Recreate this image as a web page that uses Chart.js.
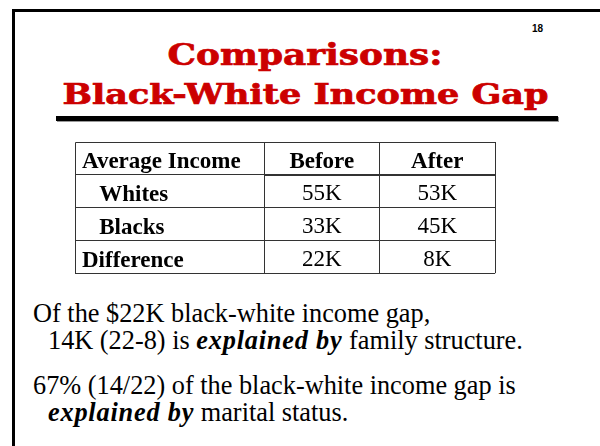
<!DOCTYPE html>
<html>
<head>
<meta charset="utf-8">
<script src="https://cdn.jsdelivr.net/npm/chart.js@4"></script>
<style>
  html, body { margin: 0; padding: 0; background: #fff; }
  body { width: 600px; height: 446px; position: relative; overflow: hidden; }
  .frame { position: absolute; left: 12px; top: 9px; width: 620px; height: 460px;
           border-top: 3px solid #000; border-left: 3px solid #000; }
  .pagenum { position: absolute; left: 532px; top: 23.5px; font: bold 10px/10px "Liberation Sans", Arial, sans-serif; }
  .title { position: absolute; left: 0; width: 610px; text-align: center; color: #cc0000;
           font-family: "DejaVu Serif", serif; font-weight: bold; white-space: nowrap;
           -webkit-text-stroke: 0.7px #cc0000; }
  .title span { display: inline-block; transform-origin: center; }
  .rule { position: absolute; left: 56px; top: 116px; width: 502px; height: 5px; background: #000;
          box-shadow: 1px 1px 0 #999; }
  .line { position: absolute; font: 26.3px/26px "Liberation Serif", "Times New Roman", serif; white-space: nowrap; color: #000; }
  .line b { font-style: italic; letter-spacing: 0.8px; }
  #tableBox { position: absolute; left: 60px; top: 130px; width: 450px; height: 160px; }
</style>
</head>
<body>
<div class="frame"></div>
<div class="pagenum">18</div>
<div class="title" style="top:39.6px;font-size:30px;line-height:30px"><span id="t1" data-w="275">Comparisons:</span></div>
<div class="title" style="top:81.2px;font-size:27px;line-height:27px"><span id="t2" data-w="486">Black-White Income Gap</span></div>
<div class="rule"></div>

<div id="tableBox"><canvas id="gapTable"></canvas></div>

<div class="line" style="left:33px;top:301px">Of the $22K black-white income gap,</div>
<div class="line" style="left:48px;top:328px">14K (22-8) is <b>explained by</b> family structure.</div>
<div class="line" style="left:33px;top:373px">67% (14/22) of the black-white income gap is</div>
<div class="line" style="left:48px;top:400px"><b>explained by</b> marital status.</div>

<script>
// table data
var cornerLabel = "Average Income";
var columns = ["Before", "After"];
var rows = ["Whites", "Blacks", "Difference"];
var indentedRows = ["Whites", "Blacks"];
var beforeValues = [55, 33, 22];
var afterValues = [53, 45, 8];
var unit = "K";

// squeeze/stretch the title lines to the slide's widths
["t1", "t2"].forEach(function (id) {
    var el = document.getElementById(id);
    var w = el.getBoundingClientRect().width;
    el.style.transform = "scaleX(" + (el.dataset.w / w) + ")";
});

var lineColor = "#333";
var cellFamily = "'Liberation Serif', 'Times New Roman', serif";
var cellSize = 23;

function toPoints(values, column) {
    return values.map(function (v, i) { return { x: column, y: rows[i], v: v }; });
}

var tableText = {
    id: "tableText",
    afterDraw: function (chart) {
        var ctx = chart.ctx;
        var area = chart.chartArea;
        var xs = chart.scales.x;
        var tick = chart.options.scales.y.grid.tickLength;
        var left = area.left - tick;
        ctx.save();
        // outer top and left edge of the table
        ctx.strokeStyle = lineColor;
        ctx.lineWidth = 1;
        ctx.beginPath();
        ctx.moveTo(Math.round(left) + 0.5, Math.round(area.bottom) + 0.5);
        ctx.lineTo(Math.round(left) + 0.5, Math.round(xs.top) + 0.5);
        ctx.lineTo(Math.round(area.right) + 0.5, Math.round(xs.top) + 0.5);
        ctx.stroke();
        // corner header
        ctx.fillStyle = "#000";
        ctx.textBaseline = "alphabetic";
        ctx.textAlign = "left";
        ctx.font = "bold " + cellSize + "px " + cellFamily;
        ctx.fillText(cornerLabel, left + 7, (xs.top + xs.bottom) / 2 + 9);
        // cell values
        ctx.textAlign = "center";
        ctx.font = cellSize + "px " + cellFamily;
        chart.data.datasets.forEach(function (ds, di) {
            var meta = chart.getDatasetMeta(di);
            meta.data.forEach(function (pt, i) {
                ctx.fillText(ds.data[i].v + unit, pt.x, pt.y + 9);
            });
        });
        ctx.restore();
    }
};

new Chart(document.getElementById("gapTable"), {
    type: "scatter",
    data: {
        datasets: [
            { label: columns[0], data: toPoints(beforeValues, columns[0]), pointRadius: 0 },
            { label: columns[1], data: toPoints(afterValues, columns[1]), pointRadius: 0 },
        ],
    },
    options: {
        responsive: true,
        maintainAspectRatio: false,
        animation: false,
        events: [],
        layout: { padding: { left: 22, top: 12, right: 15, bottom: 14 } },
        plugins: { legend: { display: false }, tooltip: { enabled: false } },
        scales: {
            x: {
                type: "category",
                labels: columns,
                position: "top",
                offset: true,
                grid: { offset: true, color: lineColor, tickLength: 33, tickColor: lineColor },
                border: { color: lineColor },
                ticks: {
                    color: "#000",
                    font: { family: cellFamily, size: cellSize, weight: "bold", lineHeight: 1 },
                    padding: -31.5,
                    maxRotation: 0,
                    autoSkip: false,
                },
                afterFit: function (scale) { scale.height = 33; },
            },
            y: {
                type: "category",
                labels: rows,
                offset: true,
                grid: { offset: true, color: lineColor, tickLength: 189, tickColor: lineColor },
                border: { color: lineColor },
                ticks: {
                    color: "#000",
                    crossAlign: "far",
                    labelOffset: 4,
                    autoSkip: false,
                    font: { family: cellFamily, size: cellSize, weight: "bold" },
                    callback: function (value, index) {
                        var name = rows[index];
                        return (indentedRows.indexOf(name) >= 0 ? "   " : "") + name;
                    },
                },
                afterFit: function (scale) { scale.width = 182; },
            },
        },
    },
    plugins: [tableText],
});
</script>
</body>
</html>
